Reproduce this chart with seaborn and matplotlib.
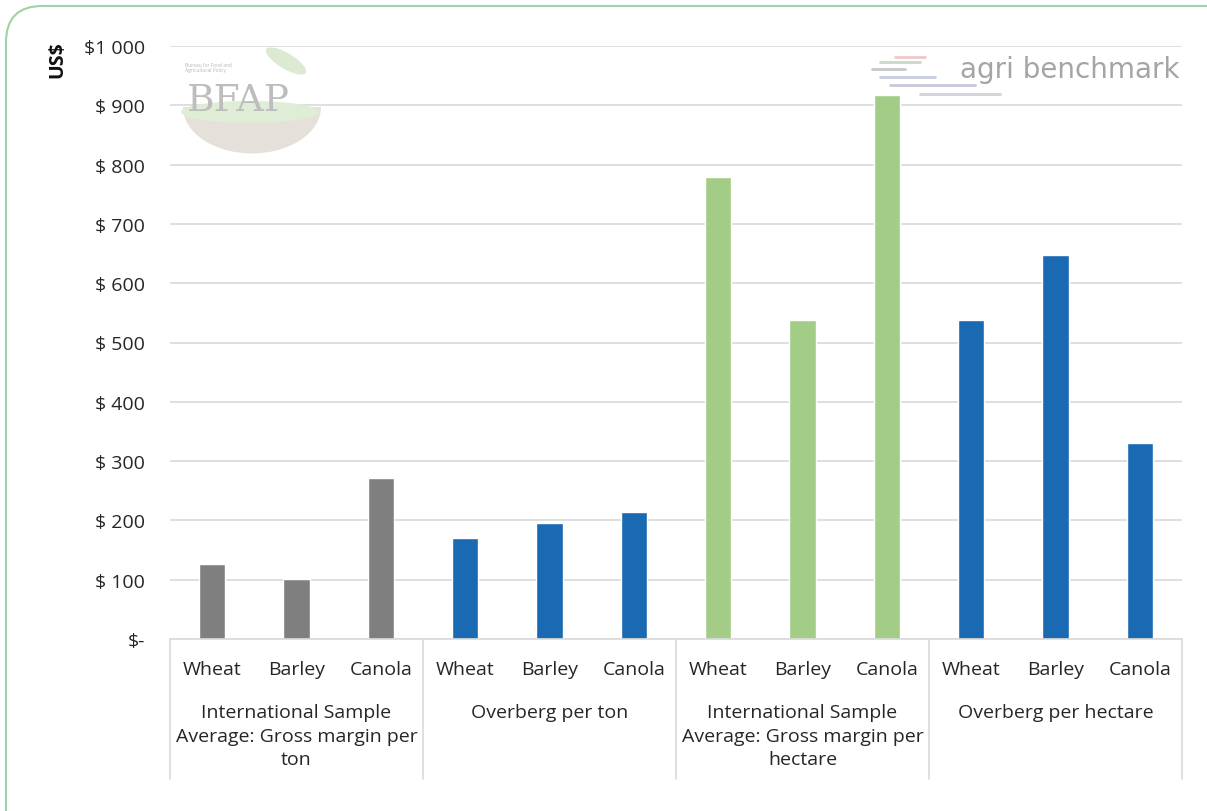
import numpy as np
import pandas as pd
import seaborn as sns
import matplotlib.pyplot as plt
from matplotlib.patches import FancyBboxPatch, Ellipse, Wedge
from matplotlib.transforms import blended_transform_factory

crops = ["Wheat", "Barley", "Canola"]
groups = ["International Sample\nAverage: Gross margin per\nton",
          "Overberg per ton",
          "International Sample\nAverage: Gross margin per\nhectare",
          "Overberg per hectare"]
values = [126, 102, 272,      # international per ton
          171, 195, 215,      # overberg per ton
          779, 538, 918,      # international per hectare
          538, 648, 330]      # overberg per hectare
group_colors = ["#7f7f7f", "#1a69b3", "#a3cd86", "#1a69b3"]
yticks = [0, 100, 200, 300, 400, 500, 600, 700, 800, 900, 1000]
ytick_labels = ["$-", "$ 100", "$ 200", "$ 300", "$ 400", "$ 500",
                "$ 600", "$ 700", "$ 800", "$ 900", "$1 000"]

sns.set_theme(style="white")
plt.rcParams["font.family"] = ["Open Sans", "DejaVu Sans"]
TXT = "#262626"

df = pd.DataFrame({
    "key": [f"{g}_{c}" for g in range(4) for c in crops],
    "crop": crops * 4,
    "group": [g for g in range(4) for _ in crops],
    "value": values,
})

W, H = 1207, 812
fig = plt.figure(figsize=(W / 100, H / 100), dpi=100)
ax = fig.add_axes([170 / W, 1 - 640 / H, (1182 - 170) / W, (640 - 47) / H])

sns.barplot(data=df, x="key", y="value", hue="group", palette=group_colors,
            dodge=False, width=0.31, legend=False, ax=ax, saturation=1)

ax.set_xlim(-0.5, 11.5)
ax.set_ylim(0, 1000)
ax.set_yticks(yticks)
ax.set_yticklabels(ytick_labels, fontsize=14, color=TXT)
ax.tick_params(axis="y", length=0, pad=18)
ax.set_xticks([])
ax.set_xlabel("")
ax.set_ylabel("")
ax.yaxis.grid(True, color="#d9d9d9", linewidth=1.2)
ax.set_axisbelow(True)
for s in ["top", "right", "left"]:
    ax.spines[s].set_visible(False)
ax.spines["bottom"].set_color("#d9d9d9")
ax.spines["bottom"].set_linewidth(1.2)

fig.text(57 / W, 1 - 60 / H, "US$", rotation=90, fontsize=14, fontweight="bold",
         color="#111111", ha="center", va="center")

# multi-level category axis
tr = blended_transform_factory(ax.transData, ax.transAxes)
px = 1 / (640 - 47)
for b in [-0.5, 2.5, 5.5, 8.5, 11.5]:
    ax.plot([b, b], [0, -(780 - 640) * px], color="#d9d9d9", lw=1.2,
            transform=tr, clip_on=False)
for i, row in df.iterrows():
    ax.text(i, -(670 - 640) * px, row["crop"], transform=tr, ha="center",
            va="center", fontsize=14, color=TXT)
for g, label in enumerate(groups):
    ax.text(3 * g + 1, -(704 - 640) * px, label, transform=tr, ha="center",
            va="top", fontsize=14, color=TXT, linespacing=1.4)

# BFAP logo (watermark)
ftr = fig.transFigure
def fx(x):
    return x / W
def fy(y):
    return 1 - y / H
fig.patches.append(Wedge((fx(252), fy(108)), 69 / W, 180, 360, transform=ftr,
                         facecolor="#e6e0da", edgecolor="none", zorder=0.5))
fig.patches.append(Ellipse((fx(250), fy(113)), 138 / W, 22 / H, transform=ftr,
                           facecolor="#dfedd6", edgecolor="none", zorder=0.6))
fig.patches.append(Ellipse((fx(286), fy(62)), 20 / W, 36 / H, angle=45, transform=ftr,
                           facecolor="#dbead1", edgecolor="none", zorder=0.6))
fig.text(fx(238), fy(111), "BFAP", fontsize=27, family="DejaVu Serif",
         color="#bdbdbd", ha="center", va="baseline", zorder=0.7)
fig.text(fx(185), fy(68), "Bureau for Food and\nAgricultural Policy", fontsize=3.5,
         color="#b5b5b5", ha="left", va="center")

# agri benchmark logo (watermark)
fig.text(fx(1180), fy(70), "agri benchmark", fontsize=20, family="DejaVu Sans",
         color="#a5a5a5", ha="right", va="center")
for y0, x0, x1, c in [(58, 895, 925, "#f0c8c8"), (63, 880, 920, "#c8d8c8"),
                      (70, 872, 905, "#c8c8c8"), (78, 880, 935, "#c8cde0"),
                      (86, 890, 975, "#c8c8d8"), (95, 920, 1000, "#d0d0d8")]:
    fig.add_artist(plt.Line2D([fx(x0), fx(x1)], [fy(y0), fy(y0)], color=c,
                              lw=2, transform=ftr))

# rounded green border
fig.patches.append(FancyBboxPatch((fx(6), fy(860)), (1260 - 6) / W, (860 - 7) / H,
                                  boxstyle="round,pad=0,rounding_size=0.03",
                                  transform=ftr, facecolor="none",
                                  edgecolor="#9fd3a4", lw=1.5, zorder=0.1,
                                  mutation_aspect=W / H))

fig.savefig("out.png", dpi=100)
